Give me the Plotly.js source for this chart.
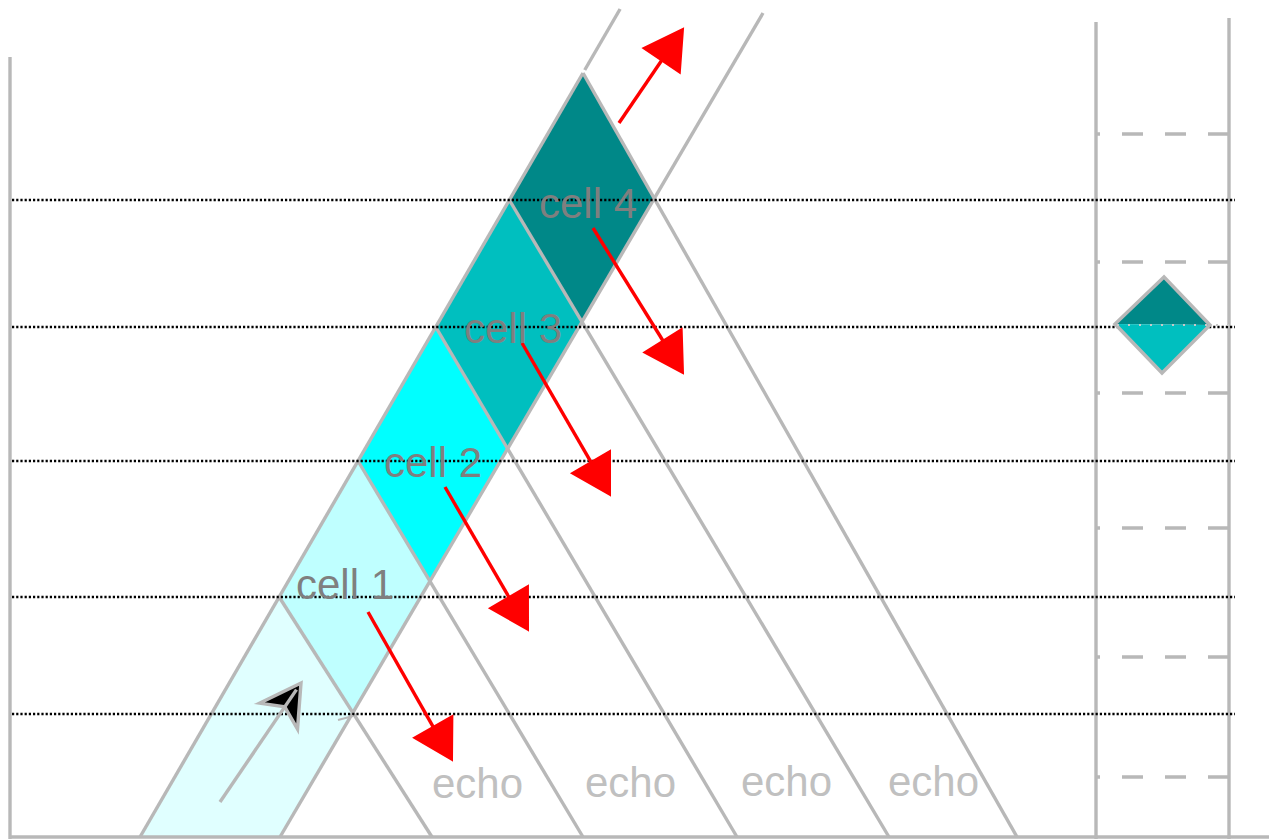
<!DOCTYPE html>
<html><head><meta charset="utf-8">
<script src="https://cdn.plot.ly/plotly-3.0.1.min.js"></script>
<style>html,body{margin:0;padding:0;background:#fff;overflow:hidden}#chart{width:1269px;height:839px}</style>
</head><body><div id="chart"></div>
<script>
// ---- diagram data (diagram units, y grows downward) ----
const groundY = 837;
const levelY = [73, 200, 327, 461, 597];            // crossings on the beam's left edge
const echoBottomX = [1017, 889, 737, 583, 432];     // where echo lines reach the ground
const beamLeftX = [140, 583];  const beamLeftY = [837, 73];
const beamRightX = [280, 763]; const beamRightY = [837, 13];
const cellNames = ['cell 4', 'cell 3', 'cell 2', 'cell 1'];
const cellColors = ['#008888', '#00bfbf', '#00ffff', '#bfffff'];
const baseColor = '#e0ffff';
const cellLabelX = [588, 513, 433, 345];
const cellLabelY = [203, 328, 462, 584];
const echoLabels = ['echo', 'echo', 'echo', 'echo'];
const echoLabelX = [477, 630, 786, 933];
const echoLabelY = [783, 782, 781, 781];
const dottedY = [200, 327, 461, 597, 714];
const dashedY = [134, 262, 393, 528, 657, 777];
const arrowTailX = [619, 593, 522, 445, 368];
const arrowTailY = [123, 228, 343, 487, 612];
const arrowTipX = [683, 683, 610, 528, 452];
const arrowTipY = [29, 373, 495, 630, 760];
const pointerX = [220, 301]; const pointerY = [802, 683];
const diamondX = [1164, 1115, 1162, 1210]; const diamondY = [277, 324, 373, 325];

const GRAY = '#b8b8b8';
const LW = 3.4;

// ---- helpers ----
function onLeft(y) {
  return beamLeftX[0] + (beamLeftY[0] - y) * (beamLeftX[1] - beamLeftX[0]) / (beamLeftY[0] - beamLeftY[1]);
}
function intersect(p1, p2, p3, p4) {
  const d = (p1[0]-p2[0])*(p3[1]-p4[1]) - (p1[1]-p2[1])*(p3[0]-p4[0]);
  const a = p1[0]*p2[1] - p1[1]*p2[0], b = p3[0]*p4[1] - p3[1]*p4[0];
  return [(a*(p3[0]-p4[0]) - (p1[0]-p2[0])*b)/d, (a*(p3[1]-p4[1]) - (p1[1]-p2[1])*b)/d];
}
const R0 = [beamRightX[0], beamRightY[0]], R1 = [beamRightX[1], beamRightY[1]];
const Lpt = levelY.map(y => [onLeft(y), y]);
const Dend = echoBottomX.map(x => [x, groundY]);
const DR = Lpt.map((p, i) => intersect(p, Dend[i], R0, R1));

function path(pts) { return 'M' + pts.map(p => p[0].toFixed(2) + ',' + p[1].toFixed(2)).join('L') + 'Z'; }
function line(x0, y0, x1, y1, color, width, dash) {
  return {type: 'line', xref: 'x', yref: 'y', x0, y0, x1, y1, line: {color, width, dash: dash || 'solid'}};
}
const shapes = [];

// base light region
shapes.push({type: 'path', xref: 'x', yref: 'y', path: path([Lpt[4], [beamLeftX[0], beamLeftY[0]], R0, DR[4]]),
  fillcolor: baseColor, line: {width: 0}});
// cells
for (let k = 0; k < 4; k++) {
  shapes.push({type: 'path', xref: 'x', yref: 'y', path: path([Lpt[k], Lpt[k+1], DR[k+1], DR[k]]),
    fillcolor: cellColors[k], line: {width: 0}});
}
// gray construction lines
shapes.push(line(beamLeftX[0], beamLeftY[0], beamLeftX[1], beamLeftY[1], GRAY, LW));
shapes.push(line(onLeft(70), 70, onLeft(9), 9, GRAY, LW));
shapes.push(line(beamRightX[0], beamRightY[0], beamRightX[1], beamRightY[1], GRAY, LW));
for (let i = 0; i < levelY.length; i++) shapes.push(line(Lpt[i][0], Lpt[i][1], Dend[i][0], Dend[i][1], GRAY, LW));
// frame
shapes.push(line(10, 57, 10, 839, GRAY, LW));
shapes.push(line(10, 837, 1269, 837, GRAY, LW));
shapes.push(line(1096, 22, 1096, 839, GRAY, LW));
shapes.push(line(1229, 18, 1229, 839, GRAY, LW));
// dashed scale marks
dashedY.forEach(y => shapes.push(line(1097, y, 1229, y, GRAY, LW, '3px,22px,21px,22px,21px,22px,22px,200px')));
// dotted levels
dottedY.forEach(y => shapes.push(line(12, y, 1235, y, '#000000', 2.6, '2.2px,2px')));
// right diamond
const dm = [[diamondX[1], diamondY[1]], [diamondX[3], diamondY[3]]];
shapes.push({type: 'path', xref: 'x', yref: 'y', path: path([[diamondX[0], diamondY[0]], dm[0], dm[1]]), fillcolor: '#008888', line: {width: 0}});
shapes.push({type: 'path', xref: 'x', yref: 'y', path: path([dm[0], [diamondX[2], diamondY[2]], dm[1]]), fillcolor: '#00bfbf', line: {width: 0}});
shapes.push({type: 'path', xref: 'x', yref: 'y', path: path(diamondX.map((x, i) => [x, diamondY[i]])), fillcolor: 'rgba(0,0,0,0)', line: {color: GRAY, width: LW}});
shapes.push(line(1117, 325, 1237, 325, '#c8c8c8', 2, '2px,9px'));
// black pointer arrow
(function () {
  const tx = pointerX[1], ty = pointerY[1];
  const ux = (pointerX[1]-pointerX[0]), uy = (pointerY[1]-pointerY[0]);
  const L = Math.hypot(ux, uy), u = [ux/L, uy/L], n = [-u[1], u[0]];
  const h = 40, w = 23;
  const bm = [tx - h*u[0], ty - h*u[1]];
  const notch = [tx - 0.72*h*u[0], ty - 0.72*h*u[1]];
  shapes.push({type: 'path', xref: 'x', yref: 'y',
    path: path([[tx, ty], [bm[0] + w*n[0], bm[1] + w*n[1]], notch, [bm[0] - w*n[0], bm[1] - w*n[1]]]),
    fillcolor: '#000000', line: {color: GRAY, width: LW}});
  shapes.push(line(pointerX[0], pointerY[0], tx - 8*u[0], ty - 8*u[1], GRAY, LW));
})();
shapes.push(line(338, 720, 353, 716, GRAY, 2));
// red arrows
for (let i = 0; i < arrowTailX.length; i++) {
  const tx = arrowTipX[i], ty = arrowTipY[i];
  const ux = tx - arrowTailX[i], uy = ty - arrowTailY[i];
  const L = Math.hypot(ux, uy), u = [ux/L, uy/L], n = [-u[1], u[0]];
  const h = 38, w = 22;
  const bm = [tx - h*u[0], ty - h*u[1]];
  shapes.push(line(arrowTailX[i], arrowTailY[i], bm[0] + 3*u[0], bm[1] + 3*u[1], '#ff0000', LW));
  shapes.push({type: 'path', xref: 'x', yref: 'y',
    path: path([[tx, ty], [bm[0] + w*n[0], bm[1] + w*n[1]], [bm[0] - w*n[0], bm[1] - w*n[1]]]),
    fillcolor: '#ff0000', line: {color: '#ff0000', width: 2}});
}

const FONT = 'Liberation Sans, Arial, Helvetica, sans-serif';
const annotations = [];
cellNames.forEach((t, i) => annotations.push({x: cellLabelX[i], y: cellLabelY[i], xref: 'x', yref: 'y', text: t,
  showarrow: false, xanchor: 'center', yanchor: 'middle', font: {family: FONT, size: 42, color: '#7f7f7f'}}));
echoLabels.forEach((t, i) => annotations.push({x: echoLabelX[i], y: echoLabelY[i], xref: 'x', yref: 'y', text: t,
  showarrow: false, xanchor: 'center', yanchor: 'middle', font: {family: FONT, size: 42, color: '#c0c0c0'}}));

const layout = {
  width: 1269, height: 839, margin: {l: 0, r: 0, t: 0, b: 0, pad: 0},
  paper_bgcolor: '#ffffff', plot_bgcolor: '#ffffff', showlegend: false,
  xaxis: {range: [0, 1269], visible: false, fixedrange: true},
  yaxis: {range: [839, 0], visible: false, fixedrange: true},
  shapes, annotations
};
Plotly.newPlot('chart', [{x: [], y: [], type: 'scatter', mode: 'markers', hoverinfo: 'skip'}], layout,
  {staticPlot: true, displayModeBar: false});
</script></body></html>
